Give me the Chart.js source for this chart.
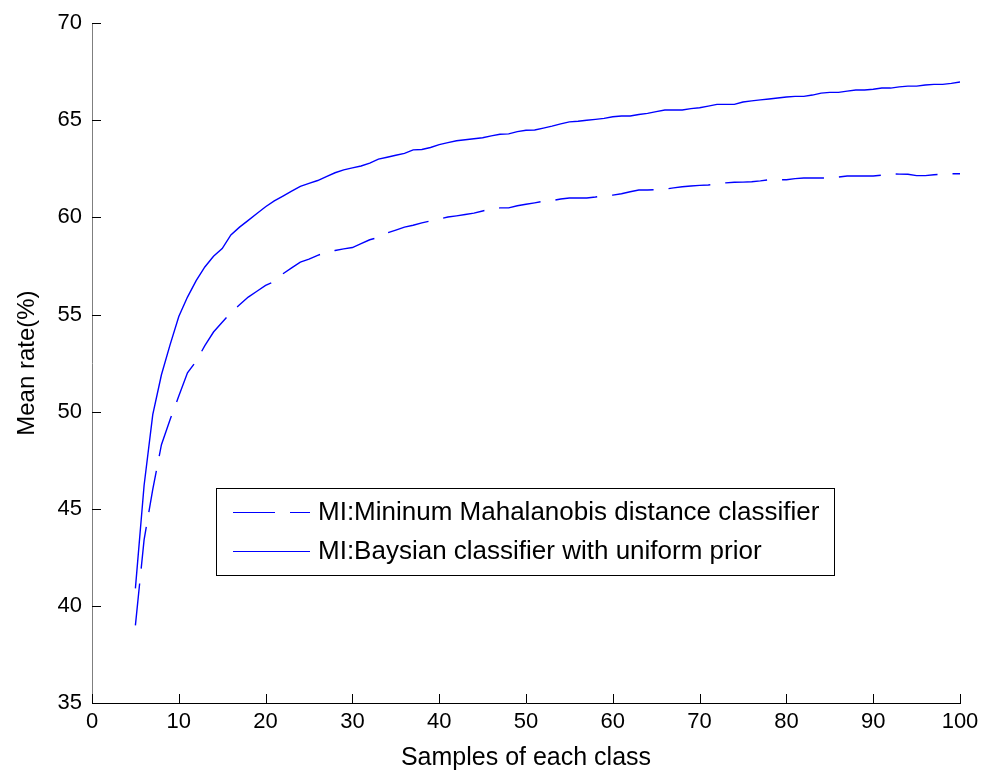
<!DOCTYPE html>
<html>
<head>
<meta charset="utf-8">
<script src="https://cdn.jsdelivr.net/npm/chart.js@4/dist/chart.umd.min.js"></script>
<style>
  body { margin: 0; background: #fff; }
  canvas { display: block; }
</style>
</head>
<body>
<canvas id="rateChart" width="989" height="775"></canvas>
<script>
// samples of each class (x)
const samples = [5, 6, 7, 8, 9, 10, 11, 12, 13, 14, 15, 16, 17, 18, 19, 20,
  21, 22, 23, 24, 25, 26, 27, 28, 29, 30, 31, 32, 33, 34, 35, 36, 37, 38, 39, 40,
  41, 42, 43, 44, 45, 46, 47, 48, 49, 50, 51, 52, 53, 54, 55, 56, 57, 58, 59, 60,
  61, 62, 63, 64, 65, 66, 67, 68, 69, 70, 71, 72, 73, 74, 75, 76, 77, 78, 79, 80,
  81, 82, 83, 84, 85, 86, 87, 88, 89, 90, 91, 92, 93, 94, 95, 96, 97, 98, 99, 100];

// MI: minimum Mahalanobis distance classifier (dashed)
const mahalanobis = [39.0, 43.4, 46.0, 48.3, 49.6, 50.8, 52.0, 52.6, 53.4, 54.1, 54.6, 55.1, 55.5, 55.9, 56.2, 56.5,
  56.7, 57.1, 57.4, 57.7, 57.85, 58.05, 58.2, 58.3, 58.38, 58.45, 58.65, 58.85, 58.97, 59.2, 59.35, 59.5, 59.6, 59.72, 59.82, 59.92,
  60.02, 60.08, 60.15, 60.22, 60.33, 60.45, 60.49, 60.49, 60.6, 60.68, 60.75, 60.83, 60.86, 60.95, 61.0, 61.0, 61.0, 61.05, 61.12, 61.15,
  61.22, 61.32, 61.41, 61.41, 61.43, 61.46, 61.52, 61.58, 61.62, 61.65, 61.67, 61.72, 61.78, 61.81, 61.82, 61.84, 61.88, 61.94, 61.94, 61.94,
  62.0, 62.03, 62.03, 62.03, 62.03, 62.08, 62.13, 62.13, 62.13, 62.13, 62.18, 62.25, 62.23, 62.22, 62.15, 62.15, 62.2, 62.22, 62.25, 62.25];

// MI: Bayesian classifier with uniform prior (solid)
const bayesian = [40.9, 46.2, 49.85, 51.9, 53.45, 54.9, 55.9, 56.75, 57.45, 58.0, 58.4, 59.1, 59.5, 59.85, 60.2, 60.55,
  60.85, 61.1, 61.35, 61.6, 61.75, 61.9, 62.1, 62.3, 62.45, 62.55, 62.65, 62.8, 63.0, 63.1, 63.2, 63.3, 63.48, 63.5, 63.6, 63.75,
  63.85, 63.95, 64.0, 64.05, 64.1, 64.2, 64.28, 64.3, 64.42, 64.49, 64.5, 64.6, 64.7, 64.82, 64.92, 64.95, 65.0, 65.05, 65.1, 65.18,
  65.22, 65.22, 65.3, 65.36, 65.45, 65.53, 65.53, 65.53, 65.6, 65.65, 65.73, 65.82, 65.82, 65.82, 65.94, 66.0, 66.05, 66.1, 66.15, 66.2,
  66.23, 66.23, 66.3, 66.4, 66.44, 66.44, 66.5, 66.56, 66.56, 66.6, 66.66, 66.66, 66.72, 66.76, 66.76, 66.82, 66.85, 66.85, 66.9, 66.97];

const seriesLabels = ['MI:Mininum Mahalanobis distance classifier', 'MI:Baysian classifier with uniform prior'];
const FONT = "'Liberation Sans', Arial, sans-serif";

function toPoints(ys) {
  return samples.map((x, i) => ({ x: x, y: ys[i] }));
}

// matlab style ticks pointing into the plot
const inwardTicks = {
  id: 'inwardTicks',
  afterDraw(chart) {
    const { ctx, chartArea, scales } = chart;
    ctx.save();
    ctx.strokeStyle = '#000';
    ctx.lineWidth = 1;
    ctx.beginPath();
    scales.x.ticks.forEach(t => {
      const px = Math.round(scales.x.getPixelForValue(t.value)) + 0.5;
      ctx.moveTo(px, chartArea.bottom);
      ctx.lineTo(px, chartArea.bottom - 9);
    });
    scales.y.ticks.forEach(t => {
      const py = Math.round(scales.y.getPixelForValue(t.value)) + 0.5;
      ctx.moveTo(chartArea.left, py);
      ctx.lineTo(chartArea.left + 9, py);
    });
    ctx.stroke();
    ctx.restore();
  }
};

// legend box inside the plot
const boxLegend = {
  id: 'boxLegend',
  afterDraw(chart) {
    const ctx = chart.ctx;
    const x = 216.5, y = 488.5, w = 618, h = 87;
    ctx.save();
    ctx.fillStyle = '#fff';
    ctx.fillRect(x, y, w, h);
    ctx.strokeStyle = '#000';
    ctx.lineWidth = 1;
    ctx.strokeRect(x, y, w, h);
    chart.data.datasets.forEach((ds, i) => {
      const rowY = 512 + i * 39;
      ctx.strokeStyle = ds.borderColor;
      ctx.lineWidth = 1;
      ctx.setLineDash(ds.borderDash || []);
      ctx.beginPath();
      ctx.moveTo(233, rowY + 0.5);
      ctx.lineTo(310, rowY + 0.5);
      ctx.stroke();
      ctx.setLineDash([]);
      ctx.fillStyle = '#000';
      ctx.font = '26px ' + FONT;
      ctx.textBaseline = 'middle';
      ctx.textAlign = 'left';
      ctx.fillText(ds.label, 318, rowY + 1);
    });
    ctx.restore();
  }
};

const ctx = document.getElementById('rateChart').getContext('2d');
new Chart(ctx, {
  type: 'line',
  data: {
    datasets: [{
      label: seriesLabels[0],
      data: toPoints(mahalanobis),
      borderColor: '#0000ff',
      borderWidth: 1.4,
      borderDash: [42, 15],
      pointRadius: 0,
      fill: false,
      tension: 0
    }, {
      label: seriesLabels[1],
      data: toPoints(bayesian),
      borderColor: '#0000ff',
      borderWidth: 1.4,
      pointRadius: 0,
      fill: false,
      tension: 0
    }]
  },
  options: {
    responsive: false,
    animation: false,
    devicePixelRatio: 1,
    layout: { padding: { top: 20, right: 29, left: 0, bottom: 0 } },
    plugins: {
      legend: { display: false },
      tooltip: { enabled: false }
    },
    scales: {
      x: {
        type: 'linear',
        min: 0,
        max: 100,
        afterFit: s => { s.height = 72; },
        grid: { display: false, drawTicks: false },
        border: { display: true, color: '#000', width: 1 },
        ticks: { stepSize: 10, color: '#000', padding: 6, font: { family: FONT, size: 22 } },
        title: {
          display: true,
          text: 'Samples of each class',
          color: '#000',
          padding: { top: 0, bottom: 2 },
          font: { family: FONT, size: 25 }
        }
      },
      y: {
        min: 35,
        max: 70,
        afterFit: s => { s.width = 92; },
        grid: { display: false, drawTicks: false },
        border: { display: true, color: '#7f7f7f', width: 1 },
        ticks: { stepSize: 5, color: '#000', padding: 10, font: { family: FONT, size: 22 } },
        title: {
          display: true,
          text: 'Mean rate(%)',
          color: '#000',
          padding: { top: 13, bottom: 0 },
          font: { family: FONT, size: 24 }
        }
      }
    }
  },
  plugins: [inwardTicks, boxLegend]
});
</script>
</body>
</html>
